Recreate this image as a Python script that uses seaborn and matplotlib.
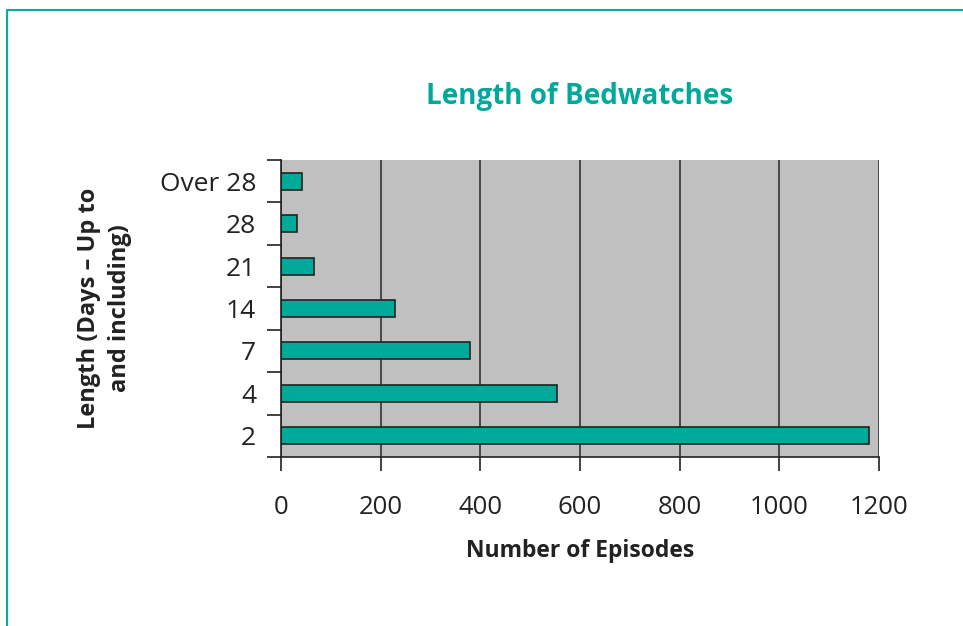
import matplotlib
matplotlib.use("Agg")
import matplotlib.pyplot as plt
import seaborn as sns
import pandas as pd
import numpy as np
from matplotlib.lines import Line2D

categories = ["Over 28", "28", "21", "14", "7", "4", "2"]
episodes = [43, 33, 67, 228, 379, 553, 1180]
x_ticks = [0, 200, 400, 600, 800, 1000, 1200]

sns.set_theme(style="white")
plt.rcParams['font.family'] = ['Open Sans', 'DejaVu Sans']

df = pd.DataFrame({"Length": categories, "Episodes": episodes})

fig = plt.figure(figsize=(9.63, 6.26), dpi=100)
ax = fig.add_axes([281/963, 1-457/626, (879-281)/963, (457-160)/626])
ax.set_facecolor("#C0C0C0")
ax.set_axisbelow(True)

sns.barplot(data=df, x="Episodes", y="Length", order=categories, orient="h",
            color="#00AA9A", edgecolor="#222222", linewidth=1.2, width=0.4,
            saturation=1, ax=ax)

ax.set_xlim(0, 1200)
ax.set_ylim(len(categories)-0.5, -0.5)
ax.set_xticks(x_ticks)
ax.set_xticklabels([str(t) for t in x_ticks], fontsize=18.5, color="#222222")
ax.xaxis.grid(True, color="#333333", linewidth=1.2)
ax.yaxis.grid(False)

ax.tick_params(axis="x", direction="out", length=10, width=1.2, color="#222222", pad=17, bottom=True)
ax.tick_params(axis="y", which="major", length=0, pad=18, labelsize=19, labelcolor="#222222")
ax.set_yticks(np.arange(-0.5, len(categories), 1.0), minor=True)
ax.tick_params(axis="y", which="minor", direction="out", length=10, width=1.2, color="#222222", left=True)
for lbl in ax.get_yticklabels():
    lbl.set_horizontalalignment("right")

for s in ["top", "right"]:
    ax.spines[s].set_visible(False)
for s in ["left", "bottom"]:
    ax.spines[s].set_color("#222222")
    ax.spines[s].set_linewidth(1.2)

ax.set_xlabel("Number of Episodes", fontsize=16.5, fontweight="bold", color="#222222", labelpad=14)
ax.set_ylabel("Length (Days – Up to\nand including)", fontsize=17, fontweight="bold", color="#222222", labelpad=20, linespacing=1.35)
ax.set_title("Length of Bedwatches", fontsize=20, fontweight="bold", color="#00A99A", pad=40)

fig.add_artist(Line2D([7/963, 7/963], [0, 1-10/626], transform=fig.transFigure, color="#00B09F", linewidth=1.5))
fig.add_artist(Line2D([7/963, 1], [1-10/626, 1-10/626], transform=fig.transFigure, color="#00B09F", linewidth=1.5))

fig.savefig("out.png", dpi=100)
